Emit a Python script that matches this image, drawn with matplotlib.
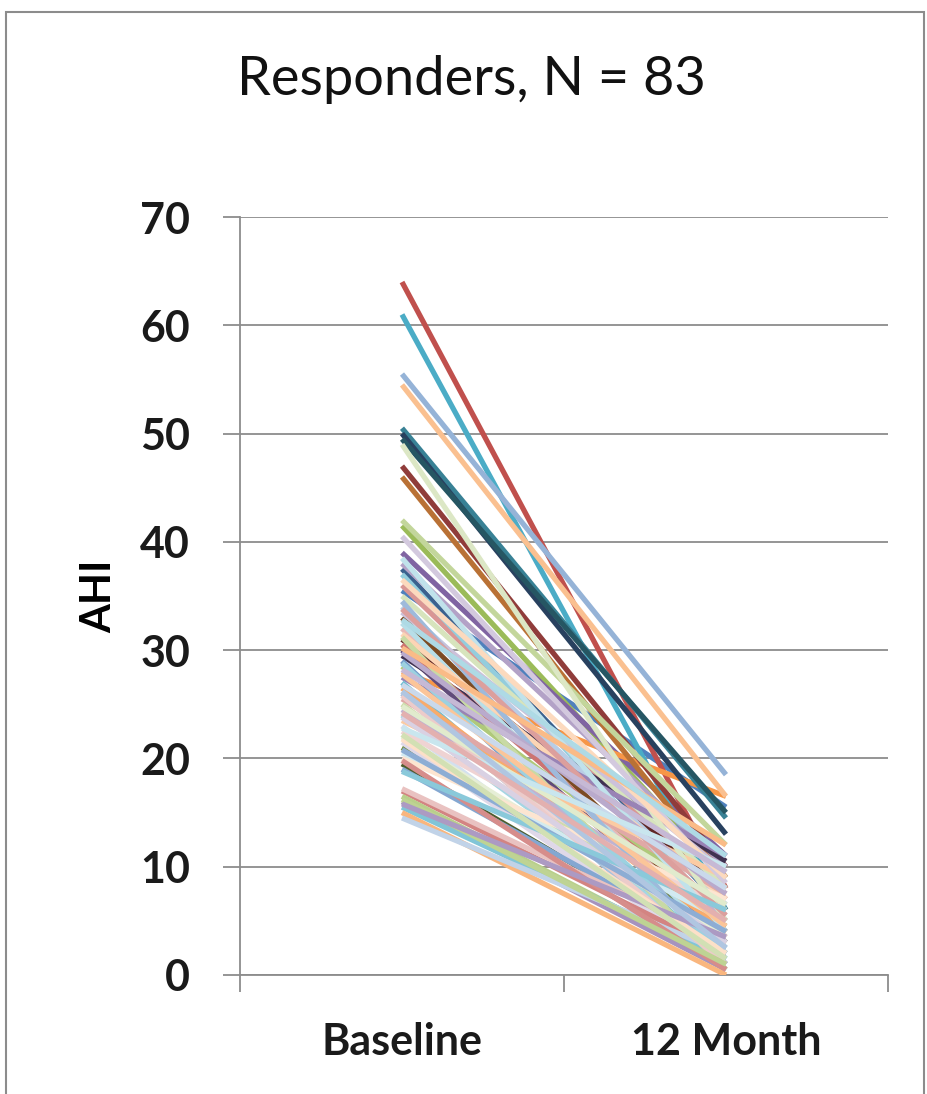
import matplotlib
matplotlib.use('Agg')
import matplotlib.pyplot as plt
import matplotlib.colors as mcolors
from matplotlib.patches import Rectangle
import numpy as np

# AHI for each responder (baseline -> 12 month)
categories = ['Baseline', '12 Month']
baseline = [35.5, 64, 41.5, 39, 61, 28, 37.5, 47, 21, 30, 50.5, 46,
            55.5, 36, 42, 38, 37, 54.5, 50, 31, 19.5, 29.5, 49.5, 33,
            34, 32, 35, 33.5, 32.5, 31.5, 29, 30.5, 28.5, 27.5, 27, 26.5,
            26, 25.5, 25, 24.5, 24, 23.5, 23, 22.5, 22, 21.5, 20.5, 20,
            19, 17, 16.5, 16, 15.5, 15, 14.5, 17.2, 49, 40.5, 38.5, 36.5,
            34.5, 33.8, 31.2, 29.8, 28.8, 27.8, 26.8, 25.8, 24.8, 23.8, 22.8, 21.8,
            20.8, 19.8, 16.2, 15.8, 18.8, 30.2, 26.2, 24.2, 22.2, 28.2, 32.8]
month12 = [15.5, 8, 9, 11, 6, 16.5, 6, 10, 4.5, 3, 14.5, 9,
           18.5, 7, 12, 10, 5, 16.5, 13, 8, 2, 10.5, 15, 4,
           6.5, 3.5, 8, 9.5, 2.5, 7, 1, 5, 6, 11, 1.5, 4,
           0.5, 7.5, 3, 5.5, 2, 9, 0.5, 6, 3.5, 1, 5, 7,
           2.5, 2, 1, 0.5, 1.5, 0, 2, 3, 5, 8.5, 4, 9,
           1, 5.5, 0.5, 7.5, 2, 4.5, 8, 1, 6.5, 3, 10, 2,
           4, 0.5, 1, 3.5, 6, 12, 2.5, 5, 1.5, 9.5, 11]
yticks = [0, 10, 20, 30, 40, 50, 60, 70]

# office 2007 style series colours: accents, then shades / tints of them
accents = ['#4F81BD', '#C0504D', '#9BBB59', '#8064A2', '#4BACC6', '#F79646']
shades = [0, -0.25, 0.4, -0.5, 0.6, 0.2, 0.5, 0.75, 0.3, 0.65, 0.45, 0.7, 0.35, 0.55]


def shade(c, f):
    rgb = np.array(mcolors.to_rgb(c))
    if f < 0:
        return tuple(rgb * (1 + f))
    return tuple(rgb + (1 - rgb) * f)


palette = [shade(accents[i % 6], shades[i // 6]) for i in range(len(baseline))]

fig = plt.figure(figsize=(9.27, 10.94), dpi=100)
ax = fig.add_axes([0.2589, 0.1088, 0.699, 0.6928])

xs = [0, 1]
for i, (b, m) in enumerate(zip(baseline, month12)):
    ax.plot(xs, [b, m], color=palette[i], lw=3.8, solid_capstyle='butt', zorder=3)

ax.set_xlim(-0.5, 1.5)
ax.set_ylim(0, 70)
ax.set_yticks(yticks)
ax.yaxis.grid(True, color='#8c8c8c', lw=1.3)
ax.set_axisbelow(True)

ax.set_xticks([-0.5, 0.5, 1.5])
ax.set_xticklabels([])
ax.set_xticks(xs, minor=True)
ax.set_xticklabels(categories, minor=True)
ax.tick_params(axis='x', which='major', length=12, width=1.3, color='#8c8c8c', direction='out')
ax.tick_params(axis='x', which='minor', length=0, pad=34, labelsize=31)
ax.tick_params(axis='y', length=12, width=1.3, color='#8c8c8c', pad=24, labelsize=31)
for lab in ax.get_xticklabels(minor=True) + ax.get_yticklabels():
    lab.set_fontweight('bold')
    lab.set_fontfamily('Lato')
    lab.set_color('#1a1a1a')

for s in ['top', 'right']:
    ax.spines[s].set_visible(False)
for s in ['left', 'bottom']:
    ax.spines[s].set_color('#8c8c8c')
    ax.spines[s].set_linewidth(1.3)

ax.set_ylabel('AHI', fontsize=30, fontweight='bold', family='Lato', labelpad=16)

fig.text(0.509, 0.927, 'Responders, N = 83', ha='center', va='center',
         fontsize=39, family='Lato', color='#111111')

fig.patches.append(Rectangle((0.0065, -0.01), 0.99, 0.999, transform=fig.transFigure,
                             fill=False, edgecolor='#8c8c8c', lw=1.5))

fig.savefig('out.png', dpi=100)
